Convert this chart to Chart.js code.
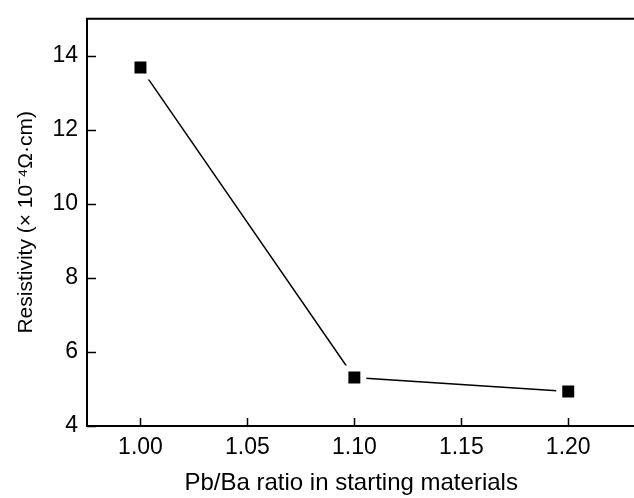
<!DOCTYPE html>
<html>
<head>
<meta charset="utf-8">
<script src="https://cdn.jsdelivr.net/npm/chart.js@4/dist/chart.umd.min.js"></script>
<style>
  html, body { margin: 0; padding: 0; background: #fff; }
  #wrap { width: 634px; height: 498px; }
</style>
</head>
<body>
<div id="wrap"><canvas id="chart1"></canvas></div>
<script>
// Pb/Ba ratio vs resistivity
const ratios = [1.00, 1.10, 1.20];
const resistivity = [13.68, 5.31, 4.93];
const yTicks = [4, 6, 8, 10, 12, 14];
const xTicks = [1.00, 1.05, 1.10, 1.15, 1.20];

const fontFamily = "'Liberation Sans', Arial, Helvetica, sans-serif";

// Frame (top, left, bottom) and inward tick marks
const framePlugin = {
  id: 'frame',
  afterDraw(chart) {
    const ctx = chart.ctx;
    const area = chart.chartArea;
    const xs = chart.scales.x;
    const ys = chart.scales.y;
    ctx.save();
    ctx.strokeStyle = '#000';
    ctx.lineWidth = 2;
    ctx.beginPath();
    ctx.moveTo(chart.width, area.top);
    ctx.lineTo(area.left, area.top);
    ctx.lineTo(area.left, area.bottom);
    ctx.lineTo(chart.width, area.bottom);
    ctx.stroke();
    ctx.lineWidth = 1.5;
    ctx.beginPath();
    xTicks.forEach(v => {
      const px = Math.round(xs.getPixelForValue(v)) + 0.5;
      ctx.moveTo(px, area.bottom);
      ctx.lineTo(px, area.bottom - 8);
    });
    yTicks.forEach(v => {
      const py = Math.round(ys.getPixelForValue(v)) + 0.5;
      ctx.moveTo(area.left, py);
      ctx.lineTo(area.left + 9, py);
    });
    ctx.stroke();
    ctx.restore();
  }
};

const ctx = document.getElementById('chart1').getContext('2d');
const chart1 = new Chart(ctx, {
  type: 'line',
  data: {
    datasets: [{
      data: ratios.map((r, i) => ({ x: r, y: resistivity[i] })),
      borderColor: '#000',
      borderWidth: 1.5,
      pointStyle: 'rect',
      pointRadius: 12.7,
      pointBackgroundColor: '#000',
      pointBorderColor: '#fff',
      pointBorderWidth: 6,
      tension: 0,
      clip: false,
    }],
  },
  options: {
    responsive: true,
    maintainAspectRatio: false,
    animation: false,
    events: [],
    layout: { padding: { top: 13, right: -5, left: 0, bottom: 0 } },
    plugins: {
      legend: { display: false },
      tooltip: { enabled: false },
    },
    scales: {
      x: {
        type: 'linear',
        min: 0.975,
        max: 1.222,
        afterFit: s => { s.height = 72; s.paddingLeft = 0; s.paddingRight = 0; },
        afterBuildTicks: s => { s.ticks = xTicks.map(v => ({ value: v })); },
        grid: { display: false, drawTicks: false },
        border: { display: false },
        ticks: {
          padding: 8,
          color: '#000',
          font: { family: fontFamily, size: 23 },
          callback: v => v.toFixed(2),
        },
        title: {
          display: true,
          text: 'Pb/Ba ratio in starting materials',
          color: '#000',
          font: { family: fontFamily, size: 24 },
          padding: { top: 14, bottom: 0 },
        },
      },
      y: {
        type: 'linear',
        min: 4,
        max: 15,
        afterFit: s => { s.width = 87; s.paddingTop = 0; s.paddingBottom = 0; },
        afterBuildTicks: s => { s.ticks = yTicks.map(v => ({ value: v })); },
        grid: { display: false, drawTicks: false },
        border: { display: false },
        ticks: {
          padding: 9,
          color: '#000',
          font: { family: fontFamily, size: 23 },
        },
        title: {
          display: true,
          text: 'Resistivity (\u00d7 10\u207b\u2074\u03a9\u00b7cm)',
          color: '#000',
          font: { family: fontFamily, size: 21 },
          padding: { top: 14, bottom: 0 },
        },
      },
    },
  },
  plugins: [framePlugin],
});
</script>
</body>
</html>
